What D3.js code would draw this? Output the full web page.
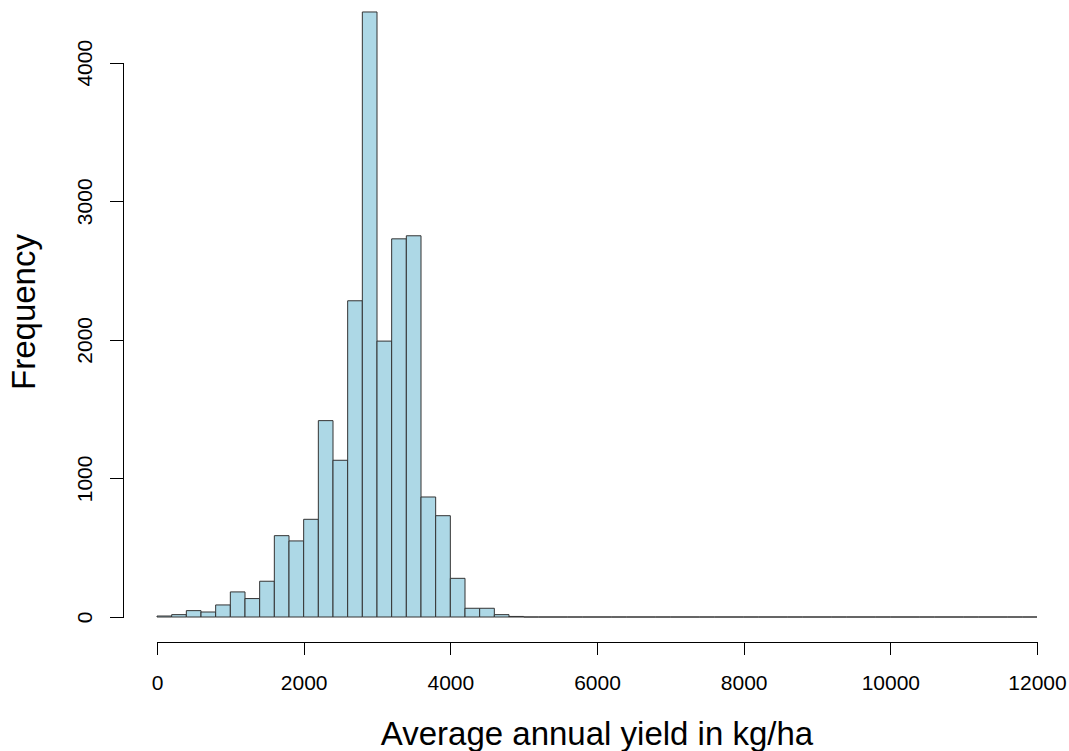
<!DOCTYPE html>
<html>
<head>
<meta charset="utf-8">
<script src="https://d3js.org/d3.v7.min.js"></script>
<style>
  body { margin: 0; background: #fff; }
  text { font-family: "Liberation Sans", Arial, sans-serif; fill: #000; }
</style>
</head>
<body>
<div id="chart"></div>
<script>
// histogram bins, 200 kg/ha wide, from 0 to 12000
var binEdges = [0, 200, 400, 600, 800, 1000, 1200, 1400, 1600, 1800,
  2000, 2200, 2400, 2600, 2800, 3000, 3200, 3400, 3600, 3800,
  4000, 4200, 4400, 4600, 4800, 5000, 5200, 5400, 5600, 5800,
  6000, 6200, 6400, 6600, 6800, 7000, 7200, 7400, 7600, 7800,
  8000, 8200, 8400, 8600, 8800, 9000, 9200, 9400, 9600, 9800,
  10000, 10200, 10400, 10600, 10800, 11000, 11200, 11400, 11600, 11800, 12000];
var counts = [7, 17, 46, 36, 87, 181, 133, 258, 587, 549,
  705, 1417, 1131, 2282, 4366, 1991, 2729, 2751, 866, 731,
  279, 63, 63, 17, 4, 0, 0, 0, 0, 0,
  0, 0, 0, 0, 0, 0, 0, 0, 0, 0,
  0, 0, 0, 0, 0, 0, 0, 0, 0, 0,
  0, 0, 0, 0, 0, 0, 0, 0, 0, 0];
var xTicks = [0, 2000, 4000, 6000, 8000, 10000, 12000];
var yTicks = [0, 1000, 2000, 3000, 4000];

var W = 1069, H = 751;

var x = d3.scaleLinear().domain([0, 12000]).range([157, 1037]);
var y = d3.scaleLinear().domain([0, 4000]).range([617, 62.7]);

var svg = d3.select("#chart").append("svg")
    .attr("width", W)
    .attr("height", H);

var bins = counts.map(function(c, i) {
  return {x0: binEdges[i], x1: binEdges[i + 1], n: c};
});

// bars as closed paths so empty bins still show as a flat line
svg.selectAll(".bar")
    .data(bins)
  .enter().append("path")
    .attr("class", "bar")
    .attr("d", function(d) {
      var p = d3.path();
      p.moveTo(x(d.x0), y(0));
      p.lineTo(x(d.x0), y(d.n));
      p.lineTo(x(d.x1), y(d.n));
      p.lineTo(x(d.x1), y(0));
      p.closePath();
      return p.toString();
    })
    .attr("fill", "#add8e6")
    .attr("stroke", "#333")
    .attr("stroke-width", 1);

// x axis, detached below the bars like R does
var gx = svg.append("g")
    .attr("transform", "translate(0,641.5)")
    .call(d3.axisBottom(x).tickValues(xTicks).tickFormat(d3.format("d"))
      .tickSizeOuter(0).tickSize(13).tickPadding(0));
gx.select(".domain").attr("stroke", "#000");
gx.selectAll(".tick line").attr("stroke", "#000");
gx.selectAll(".tick text")
    .attr("y", 48.5)
    .attr("dy", 0)
    .style("font-size", "21px");

// y axis with rotated labels
var gy = svg.append("g")
    .attr("transform", "translate(122.5,0)")
    .call(d3.axisLeft(y).tickValues(yTicks).tickFormat(d3.format("d"))
      .tickSizeOuter(0).tickSize(13));
gy.select(".domain").attr("stroke", "#000");
gy.selectAll(".tick line").attr("stroke", "#000");
gy.selectAll(".tick text")
    .attr("transform", "rotate(-90)")
    .attr("x", 0)
    .attr("y", -31)
    .attr("dy", 0)
    .attr("text-anchor", "middle")
    .style("font-size", "21px");

svg.selectAll(".tick text").attr("fill", "#000");
svg.selectAll(".domain, .tick line").attr("shape-rendering", "crispEdges");

// axis titles
svg.append("text")
    .attr("x", 597)
    .attr("y", 745)
    .attr("text-anchor", "middle")
    .style("font-size", "33px")
    .text("Average annual yield in kg/ha");

svg.append("text")
    .attr("transform", "translate(35,312) rotate(-90)")
    .attr("text-anchor", "middle")
    .style("font-size", "33px")
    .text("Frequency");
</script>
</body>
</html>
